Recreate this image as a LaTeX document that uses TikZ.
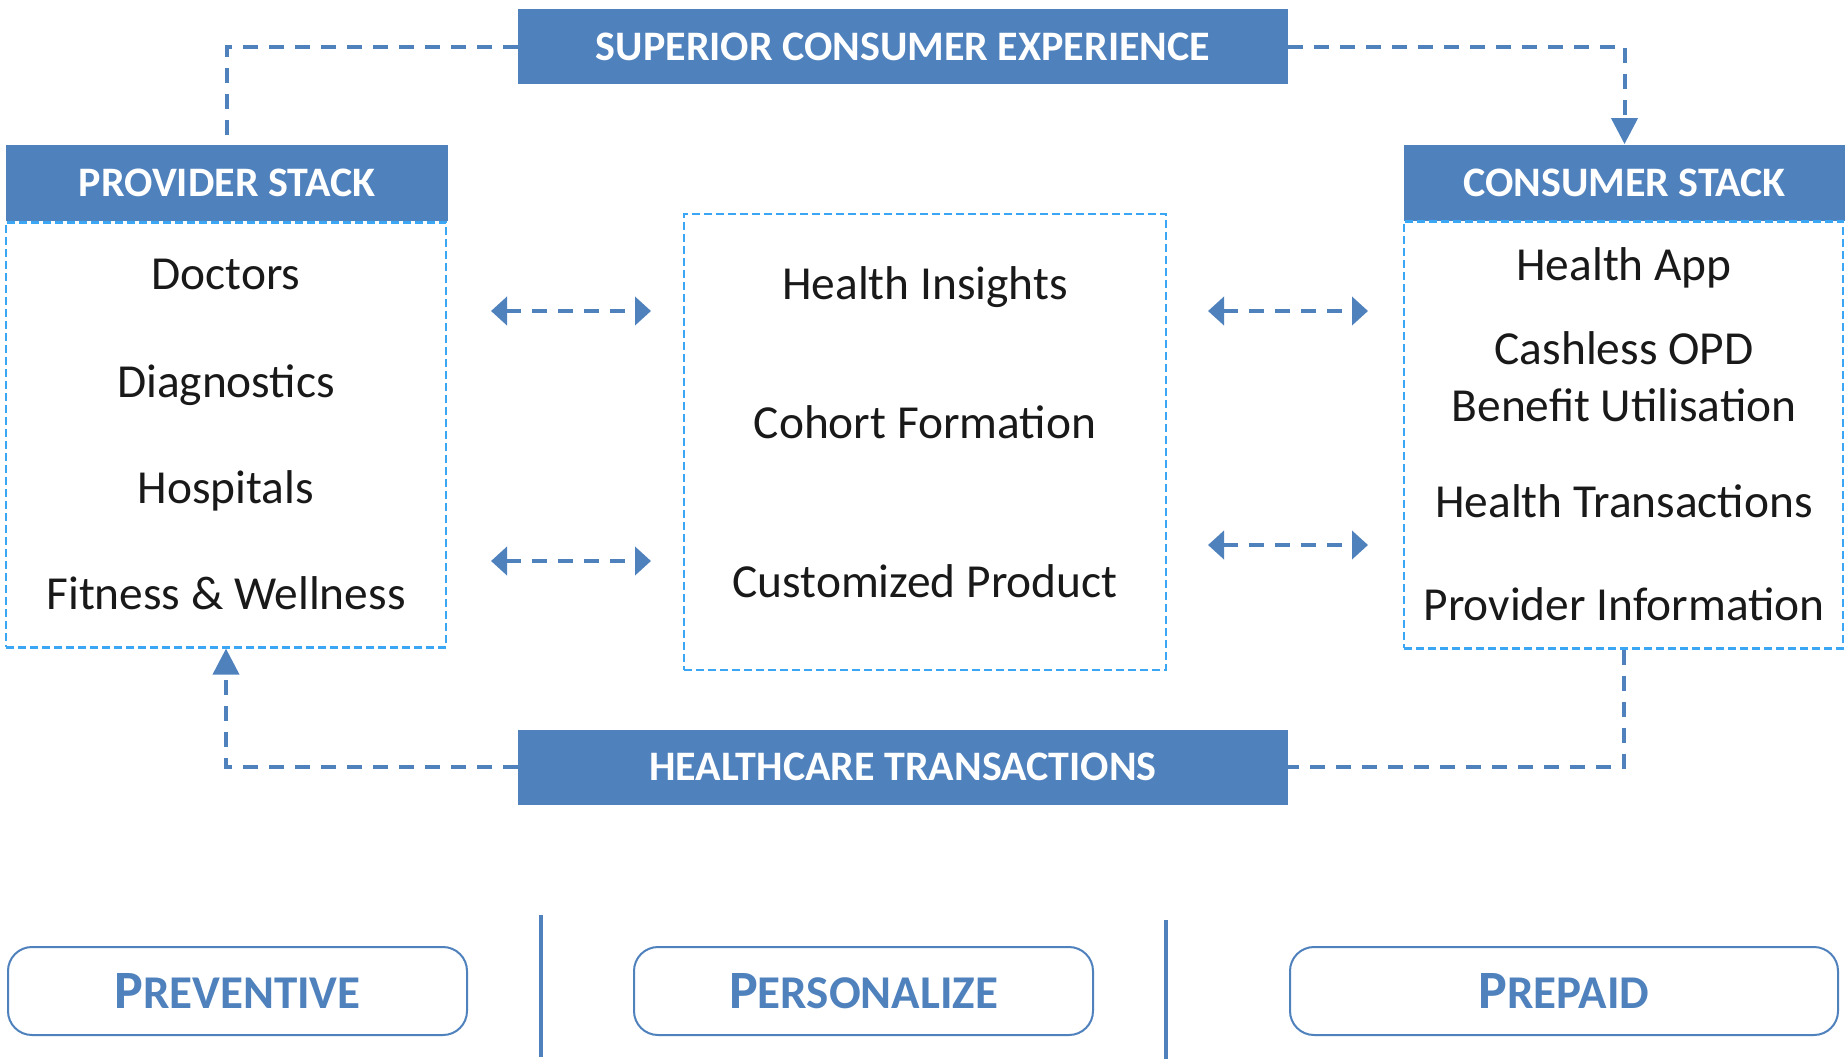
\documentclass[tikz,border=0pt]{standalone}
\usepackage{fontspec}
\setmainfont{Carlito}
\usetikzlibrary{arrows.meta}
\definecolor{stackblue}{HTML}{4F81BD}
\definecolor{boxblue}{HTML}{3AA6F4}
\begin{document}
\begin{tikzpicture}[x=0.5pt,y=-0.5pt,
    banner/.style={fill=stackblue,text=white,inner sep=0pt,
      font=\fontsize{21}{25}\selectfont\bfseries,
      minimum width=385pt,minimum height=37.5pt},
    stackhead/.style={fill=stackblue,text=white,inner sep=0pt,
      font=\fontsize{21}{25}\selectfont\bfseries,minimum height=38pt},
    stackbody/.style={draw=boxblue,line width=1.3pt,dash pattern=on 4pt off 2pt,
      inner sep=0pt},
    item/.style={font=\fontsize{23.7}{28}\selectfont,text=black!90},
    pill/.style={draw=stackblue,line width=1pt,rounded corners=12pt,
      minimum height=44pt,inner sep=0pt,text=stackblue,
      font=\fontsize{23.5}{28}\selectfont\bfseries},
    link/.style={stackblue,line width=2pt,dash pattern=on 7.5pt off 5.5pt}]
  \useasboundingbox (0,0) rectangle (1845,1060);

  % banners
  \node[banner] (sce) at (903,46.5) {SUPERIOR CONSUMER EXPERIENCE};
  \node[banner] (ht) at (903,767) {HEALTHCARE TRANSACTIONS};

  % provider stack
  \node[stackhead,minimum width=221pt] (provhead) at (227,183) {PROVIDER STACK};
  \node[stackbody,minimum width=220pt,minimum height=212.5pt,anchor=north]
    (provbody) at (226,221) {};
  \node[item] (doctors) at (226,274) {Doctors};
  \node[item] (diag) at (226,385) {Diagnostics};
  \node[item] (hosp) at (226,491) {Hospitals};
  \node[item] (fitness) at (226,593) {Fitness \& Wellness};

  % consumer stack
  \node[stackhead,minimum width=220.5pt] (conshead) at (1624.5,182.5) {CONSUMER STACK};
  \node[stackbody,minimum width=219.5pt,minimum height=213.5pt,anchor=north]
    (consbody) at (1623.5,220) {};
  \node[item] (app) at (1624,268) {Health App};
  \node[item] (opd) at (1624,348) {Cashless OPD};
  \node[item] (benefit) at (1624,405) {Benefit Utilisation};
  \node[item] (trans) at (1624,501) {Health Transactions};
  \node[item] (provinfo) at (1624,604) {Provider Information};

  % middle box
  \node[stackbody,minimum width=241pt,minimum height=228pt] (mid) at (925,442) {};
  \node[item] (insights) at (925,287) {Health Insights};
  \node[item] (cohort) at (925,422) {Cohort Formation};
  \node[item] (custom) at (925,581) {Customized Product};

  % loop between the stacks
  \draw[link] (sce.west) -| (provhead.north);
  \draw[link,-{Triangle[width=13pt,length=13pt]}] (sce.east) -| (conshead.north);
  \draw[link] (consbody.south) |- (ht.east);
  \draw[link,-{Triangle[width=13pt,length=13pt]}] (ht.west) -| (provbody.south);

  % two-way arrows
  \coordinate (l1a) at (491,311);  \coordinate (l1b) at (651,311);
  \coordinate (l2a) at (491,561);  \coordinate (l2b) at (651,561);
  \coordinate (r1a) at (1208,311); \coordinate (r1b) at (1368,311);
  \coordinate (r2a) at (1208,545); \coordinate (r2b) at (1368,545);
  \begin{scope}[{Triangle[width=14pt,length=8pt]}-{Triangle[width=14pt,length=8pt]}]
    \draw[link] (l1a) -- (l1b);
    \draw[link] (l2a) -- (l2b);
    \draw[link] (r1a) -- (r1b);
    \draw[link] (r2a) -- (r2b);
  \end{scope}

  % pillars
  \node[pill,minimum width=229.5pt] (prev) at (237.5,991)
    {{\fontsize{27}{30}\selectfont P}REVENTIVE};
  \node[pill,minimum width=229.5pt] (pers) at (863.5,991)
    {{\fontsize{27}{30}\selectfont P}ERSONALIZE};
  \node[pill,minimum width=274pt] (prep) at (1564,991)
    {{\fontsize{27}{30}\selectfont P}REPAID};
  \draw[stackblue,line width=1.6pt] (541,915) -- (541,1057);
  \draw[stackblue,line width=1.6pt] (1166,920) -- (1166,1059);
\end{tikzpicture}
\end{document}
